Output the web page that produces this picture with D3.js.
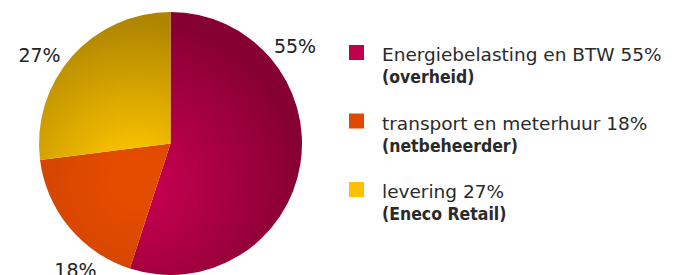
<html>
<head>
<script src="https://d3js.org/d3.v7.min.js"></script>
<style>
  body { margin: 0; background: #fff; }
</style>
</head>
<body>
<script>
  var categories = ["Energiebelasting en BTW", "transport en meterhuur", "levering"];
  var owners = ["(overheid)", "(netbeheerder)", "(Eneco Retail)"];
  var values = [55, 18, 27];
  var labelAngles = [52, 217, 304]; // where the % label sits, degrees clockwise from top

  var brightColors = ["#c2004e", "#e44c00", "#fcc400"];
  var darkColors = ["#860032", "#c43e00", "#ae8400"];
  var legendColors = ["#c0004a", "#e04a00", "#fcc000"];

  var svgWidth = 677, svgHeight = 275;
  var cx = 170.5, cy = 143.5, radius = 131.5;

  var svg = d3.select("body").append("svg")
    .attr("width", svgWidth)
    .attr("height", svgHeight);

  // gradient coords are relative to the pie group (origin at pie centre)
  var defs = svg.append("defs");
  values.forEach(function(v, i) {
    var grad = defs.append("radialGradient")
      .attr("id", "grad" + i)
      .attr("gradientUnits", "userSpaceOnUse")
      .attr("cx", -35).attr("cy", 40).attr("r", 175);
    grad.append("stop").attr("offset", "0.15").attr("stop-color", brightColors[i]);
    grad.append("stop").attr("offset", "0.95").attr("stop-color", darkColors[i]);
  });

  var pie = d3.pie().sort(null).value(function(d) { return d; });
  var arc = d3.arc().innerRadius(0).outerRadius(radius);

  var pieGroup = svg.append("g").attr("transform", "translate(" + cx + "," + cy + ")");

  pieGroup.selectAll("path")
    .data(pie(values))
    .enter().append("path")
    .attr("d", arc)
    .attr("fill", function(d, i) { return "url(#grad" + i + ")"; });

  var labelRadius = 158;
  pieGroup.selectAll("text.pct")
    .data(values)
    .enter().append("text")
    .attr("class", "pct")
    .attr("x", function(d, i) { return labelRadius * Math.sin(labelAngles[i] * Math.PI / 180); })
    .attr("y", function(d, i) { return -labelRadius * Math.cos(labelAngles[i] * Math.PI / 180) + 7; })
    .attr("text-anchor", "middle")
    .attr("font-family", "DejaVu Sans, sans-serif")
    .attr("font-size", "19px")
    .attr("fill", "#222")
    .text(function(d) { return d + "%"; });

  var legendY = d3.scalePoint().domain(d3.range(categories.length)).range([45, 182]);

  var legend = svg.append("g").selectAll("g")
    .data(categories)
    .enter().append("g")
    .attr("transform", function(d, i) { return "translate(349," + legendY(i) + ")"; });

  legend.append("rect")
    .attr("width", 15).attr("height", 15)
    .attr("fill", function(d, i) { return legendColors[i]; });

  legend.append("text")
    .attr("x", 33).attr("y", 16)
    .attr("font-family", "DejaVu Sans, sans-serif")
    .attr("font-size", "18.5px")
    .attr("fill", "#2a2a2a")
    .text(function(d, i) { return d + " " + values[i] + "%"; });

  legend.append("text")
    .attr("x", 33).attr("y", 38)
    .attr("font-family", "DejaVu Sans Condensed, DejaVu Sans, sans-serif")
    .attr("font-size", "17.5px")
    .attr("font-weight", "bold")
    .attr("fill", "#2a2a2a")
    .text(function(d, i) { return owners[i]; });
</script>
</body>
</html>
